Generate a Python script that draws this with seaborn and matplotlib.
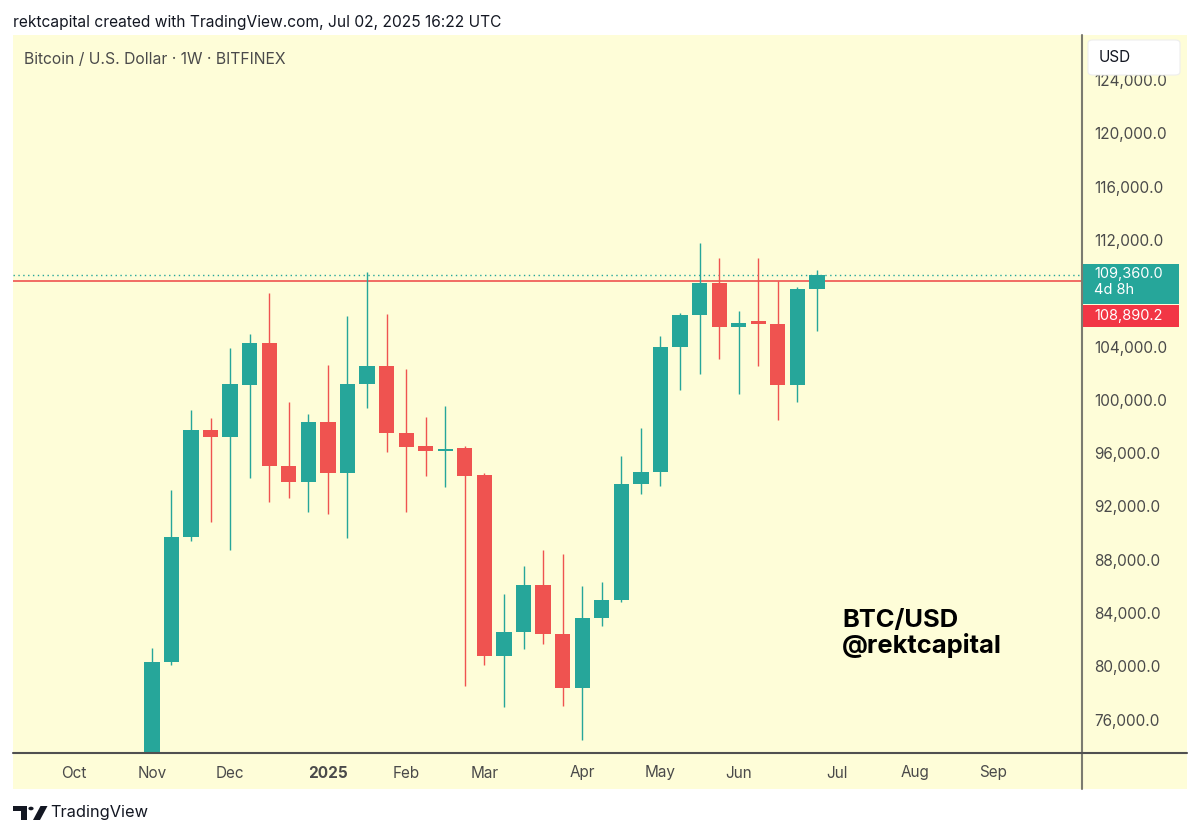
import numpy as np
import pandas as pd
import matplotlib
matplotlib.use('Agg')
import matplotlib.pyplot as plt
from matplotlib.patches import Rectangle, FancyBboxPatch, Polygon, Circle
from matplotlib.lines import Line2D
from matplotlib.transforms import blended_transform_factory
import seaborn as sns

# weekly BTC/USD candles, first week starts 2024-11-04
first_week = '2024-11-04'
opens = [68800, 80300, 89700, 97700, 97200, 101150, 104300, 95050, 93850, 98300,
         94500, 101200, 102550, 97500, 96550, 96150, 96400, 94350, 80800, 82600,
         86100, 82450, 78350, 83600, 84950, 93700, 94600, 104000, 106400, 108800,
         105500, 105750, 105700, 101100, 108350]
highs = [81400, 93200, 99250, 98650, 103900, 104950, 108000, 99800, 98950, 102650,
         106300, 109600, 106450, 102300, 98700, 99500, 96550, 94500, 85450, 87550,
         88750, 88400, 86000, 86350, 95750, 97850, 104800, 106550, 111800, 110650,
         106700, 110650, 108950, 108500, 109750]
lows = [66800, 80100, 89400, 90850, 88750, 94150, 92300, 92600, 91600, 91400,
        89650, 99400, 96100, 91600, 94300, 93450, 78550, 80100, 76950, 81300,
        81700, 77050, 74450, 83050, 84850, 92950, 93550, 100750, 101950, 103100,
        100450, 102550, 98500, 99800, 105200]
closes = [80300, 89700, 97750, 97200, 101200, 104300, 95050, 93850, 98300, 94500,
          101200, 102550, 97500, 96450, 96150, 96300, 94300, 80800, 82600, 86100,
          82450, 78350, 83600, 84950, 93700, 94600, 104000, 106400, 108800, 105500,
          105750, 105700, 101150, 108350, 109360]

last_price = 109360.0
prev_close = 108890.2
countdown = '4d 8h'
price_ticks = list(range(76000, 124001, 4000))
month_labels = ['Oct', 'Nov', 'Dec', '2025', 'Feb', 'Mar', 'Apr', 'May', 'Jun', 'Jul', 'Aug', 'Sep']
month_starts = ['2024-10-01', '2024-11-01', '2024-12-01', '2025-01-01', '2025-02-01', '2025-03-01',
                '2025-04-01', '2025-05-01', '2025-06-01', '2025-07-01', '2025-08-01', '2025-09-01']

UP = '#26A69A'
DOWN = '#EF5350'
BG = '#FEFDD8'
TXT = '#4A4A4A'

W, H = 1200, 836

sns.set_theme(style='white')
plt.rcParams['font.family'] = ['Inter', 'DejaVu Sans']

df = pd.DataFrame({'open': opens, 'high': highs, 'low': lows, 'close': closes})
df['week'] = pd.date_range(first_week, periods=len(df), freq='W-MON')
df['i'] = np.arange(len(df))
df['up'] = df['close'] >= df['open']
df['color'] = np.where(df['up'], UP, DOWN)

start = pd.Timestamp(first_week)
month_pos = [int(np.ceil((pd.Timestamp(m) - start).days / 7)) for m in month_starts]


def fx(x):
    return x / W


def fy(y):
    return 1 - y / H


fig = plt.figure(figsize=(W / 100, H / 100), dpi=100)
fig.patch.set_facecolor('white')

# yellow panel behind the chart incl. the axis areas
fig.patches.append(Rectangle((fx(13), fy(789)), fx(1187 - 13), (789 - 35) / H,
                             transform=fig.transFigure, facecolor=BG, edgecolor='none', zorder=-5))

ax = fig.add_axes([fx(13), fy(753), fx(1082 - 13), (753 - 35) / H])
ax.set_facecolor(BG)
for s in ax.spines.values():
    s.set_visible(False)

# wicks and bodies
ax.vlines(df['i'], df['low'], df['high'], colors=df['color'], linewidth=1.0, zorder=3)
body_lo = df[['open', 'close']].min(axis=1)
body_h = (df['close'] - df['open']).abs().clip(lower=180)
ax.bar(df['i'], body_h, bottom=body_lo, width=0.78, color=df['color'], linewidth=0, zorder=4)

ax.axhline(last_price, color=UP, linewidth=1.0, linestyle=(0, (1, 2.5)), zorder=2)
ax.axhline(prev_close, color=DOWN, linewidth=1.2, zorder=2)

ax.set_xlim(-7.1, 47.55)
ax.set_ylim(73500, 127375)

# price labels on the right scale: boxes span these prices
teal_top = last_price + 825
teal_bottom = last_price - 2175
red_top = teal_bottom - 75
red_bottom = red_top - 1650

ax.yaxis.tick_right()
ax.set_yticks(price_ticks)
# the tick hidden behind the price boxes gets no text
ax.set_yticklabels(['' if red_bottom - 600 < v < teal_top + 600 else f'{v:,.1f}' for v in price_ticks])
ax.tick_params(axis='y', length=0, pad=8.6, labelsize=11, labelcolor=TXT)
ax.set_xticks(month_pos)
ax.set_xticklabels(month_labels)
ax.tick_params(axis='x', length=0, pad=9, labelsize=11, labelcolor=TXT)
for t in ax.get_xticklabels():
    if t.get_text() == '2025':
        t.set_fontweight('bold')
ax.grid(False)

tr = blended_transform_factory(ax.transAxes, ax.transData)
ax.add_patch(Rectangle((1.001, teal_bottom), 0.0898, teal_top - teal_bottom, transform=tr,
                       facecolor=UP, edgecolor='none', clip_on=False, zorder=6))
ax.text(1.0112, last_price + 640, f'{last_price:,.1f}\n{countdown}', transform=tr, color='white',
        fontsize=10.5, va='top', ha='left', linespacing=1.2, zorder=7, clip_on=False)
ax.add_patch(Rectangle((1.001, red_bottom), 0.0898, red_top - red_bottom, transform=tr,
                       facecolor='#F23645', edgecolor='none', clip_on=False, zorder=6))
ax.text(1.0112, (red_top + red_bottom) / 2, f'{prev_close:,.1f}', transform=tr, color='white',
        fontsize=10.5, va='center', ha='left', zorder=7, clip_on=False)

# frame lines
fig.lines.append(Line2D([fx(1082), fx(1082)], [fy(35), fy(789)], transform=fig.transFigure,
                        color='#7B7B70', linewidth=1.5))
fig.lines.append(Line2D([fx(13), fx(1187)], [fy(753), fy(753)], transform=fig.transFigure,
                        color='#505050', linewidth=1.5))

# USD box
fig.patches.append(FancyBboxPatch((fx(1088), fy(75)), fx(92), 35 / H,
                                  boxstyle='round,pad=0,rounding_size=0.004',
                                  transform=fig.transFigure, facecolor='white',
                                  edgecolor='#EEEEEE', linewidth=0.8, zorder=5))
fig.text(fx(1099), fy(58), 'USD', fontsize=11, color='#131722', va='center', ha='left', zorder=6)

fig.text(fx(24), fy(59), 'Bitcoin / U.S. Dollar · 1W · BITFINEX', fontsize=11.3,
         color=TXT, va='center', ha='left')
fig.text(fx(13), fy(22), 'rektcapital created with TradingView.com, Jul 02, 2025 16:22 UTC',
         fontsize=11.2, color='#131722', va='center', ha='left')

fig.text(fx(842), fy(634), 'BTC/USD\n@rektcapital', fontsize=18.4, fontweight='bold',
         color='black', va='center', ha='left', linespacing=1.05)

# TradingView logo
logo = [
    Polygon([(fx(13), fy(806)), (fx(27), fy(806)), (fx(27), fy(820)), (fx(20.5), fy(820)),
             (fx(20.5), fy(811)), (fx(13), fy(811))], closed=True),
    Polygon([(fx(40.5), fy(806)), (fx(47.5), fy(806)), (fx(40), fy(820)), (fx(33), fy(820))], closed=True),
]
for p in logo:
    p.set_transform(fig.transFigure)
    p.set_facecolor('#131722')
    p.set_edgecolor('none')
    fig.patches.append(p)
fig.patches.append(Circle((fx(31), fy(808.5)), 2.6 / W, transform=fig.transFigure,
                          facecolor='#131722', edgecolor='none'))
fig.text(fx(50), fy(813), 'TradingView', fontsize=11.8, color='#131722', va='center', ha='left')

fig.savefig('out.png', dpi=100, facecolor='white')
